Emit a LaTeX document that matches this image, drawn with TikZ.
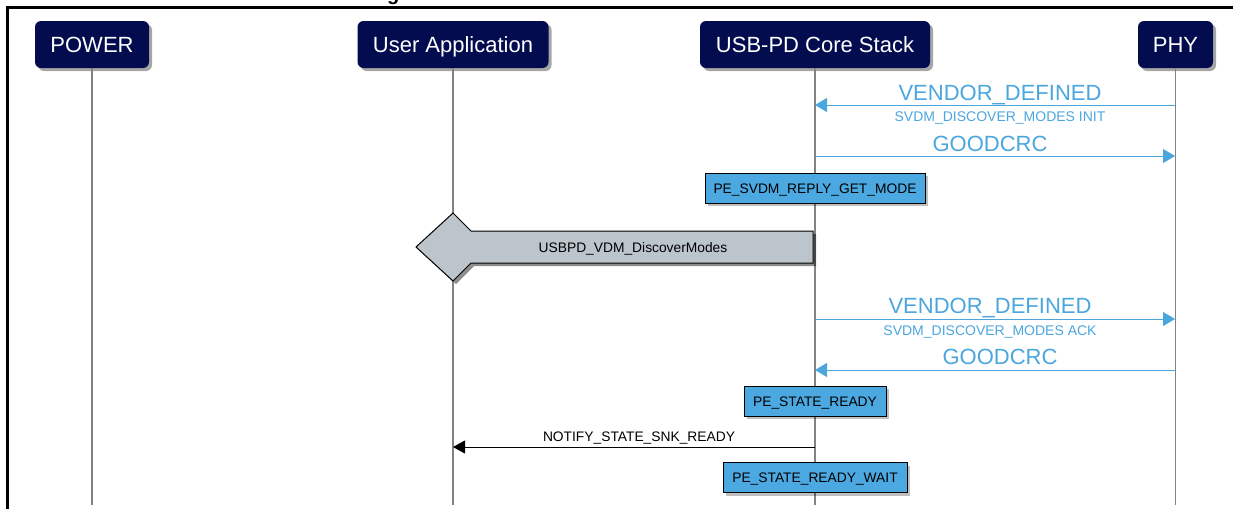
\documentclass[tikz,border=0pt]{standalone}
\usepackage{fontspec}
\setmainfont{Liberation Sans}
\usetikzlibrary{arrows.meta,shadows}
\definecolor{navy}{RGB}{2,12,78}
\definecolor{pdblue}{RGB}{75,166,222}
\definecolor{stblue}{RGB}{76,168,224}
\definecolor{lifegray}{RGB}{130,130,130}
\definecolor{callgray}{RGB}{188,196,204}
\begin{document}
\begin{tikzpicture}[x=1pt,y=-1pt,
  hdr/.style={fill=navy, rounded corners=6pt, text=white,
    font=\fontsize{22}{26}\selectfont, minimum height=47pt, inner sep=0pt,
    text height=16pt, text depth=0pt,
    drop shadow={shadow xshift=3pt, shadow yshift=-3pt, opacity=0.35, fill=black}},
  stbox/.style={draw=black, line width=1pt, fill=stblue,
    font=\fontsize{13.8}{16}\selectfont, minimum height=30pt, inner xsep=0pt,
    text height=10pt, text depth=0pt,
    drop shadow={shadow xshift=3pt, shadow yshift=-3pt, opacity=0.25, fill=black}},
  life/.style={draw=lifegray, line width=1.8pt},
  bmsg/.style={draw=pdblue, line width=1pt, -{Triangle[length=12pt,width=14pt]}},
  kmsg/.style={draw=black, line width=1pt, -{Triangle[length=12pt,width=13pt]}},
  blbl/.style={text=pdblue, font=\fontsize{22}{26}\selectfont, anchor=base, inner sep=0pt},
  bsub/.style={text=pdblue, font=\fontsize{14}{16}\selectfont, anchor=base, inner sep=0pt},
  klbl/.style={text=black, font=\fontsize{13.8}{16}\selectfont, anchor=base, inner sep=0pt},
  call/.style={fill=callgray, draw=black, line width=1pt,
    drop shadow={shadow xshift=3pt, shadow yshift=-3pt, opacity=0.45, fill=black}}
]
\useasboundingbox (0,0) rectangle (1233,509);
% frame
\draw[line width=3pt] (7.5,509) -- (7.5,7) -- (1233,7);
\node[anchor=base west, inner sep=0pt, font=\fontsize{20}{24}\selectfont\bfseries] (ttl) at (387,0.5) {g};
% headers
\node[hdr, minimum width=114pt] (power) at (92,44.5) {POWER};
\node[hdr, minimum width=191pt] (user) at (453,44.5) {User Application};
\node[hdr, minimum width=230pt] (core) at (815,44.5) {USB-PD Core Stack};
\node[hdr, minimum width=75pt] (phy) at (1175.5,44.5) {PHY};
% lifelines
\coordinate (bot) at (0,505);
\draw[life] (power.south) -- (power.south |- bot);
\draw[life] (user.south) -- (user.south |- bot);
\draw[life] (core.south) -- (core.south |- bot);
\draw[life] (phy.south) -- (phy.south |- bot);
% message end points
\coordinate (p1) at (1175,105); \coordinate (c1) at (815,105);
\coordinate (c2) at (815,156);  \coordinate (p2) at (1175,156);
\coordinate (c5) at (815,319);  \coordinate (p5) at (1175,319);
\coordinate (p6) at (1175,370); \coordinate (c6) at (815,370);
\coordinate (c8) at (815,447);  \coordinate (u8) at (453,447);
% messages
\draw[bmsg] (p1) -- (c1);
\node[blbl] (l1) at (1000,100) {VENDOR\_DEFINED};
\node[bsub] (s1) at (1000,121) {SVDM\_DISCOVER\_MODES INIT};
\draw[bmsg] (c2) -- (p2);
\node[blbl] (l2) at (990,151) {GOODCRC};
\node[stbox, minimum width=220pt] (st1) at (815,188) {PE\_SVDM\_REPLY\_GET\_MODE};
% call shape
\path[call] (813,231) -- (471,231) -- (453,213) -- (416,247) -- (453,281) -- (471,263) -- (813,263) -- cycle;
\node[klbl, anchor=center, text height=10pt, text depth=0pt] (callt) at (633,247) {USBPD\_VDM\_DiscoverModes};
\draw[bmsg] (c5) -- (p5);
\node[blbl] (l5) at (990,313.5) {VENDOR\_DEFINED};
\node[bsub] (s5) at (990,335.5) {SVDM\_DISCOVER\_MODES ACK};
\draw[bmsg] (p6) -- (c6);
\node[blbl] (l6) at (1000,364.5) {GOODCRC};
\node[stbox, minimum width=142pt] (st2) at (815,401) {PE\_STATE\_READY};
\draw[kmsg] (c8) -- (u8);
\node[klbl] (l8) at (639,441) {NOTIFY\_STATE\_SNK\_READY};
\node[stbox, minimum width=184pt] (st3) at (815,477.5) {PE\_STATE\_READY\_WAIT};
\end{tikzpicture}
\end{document}
